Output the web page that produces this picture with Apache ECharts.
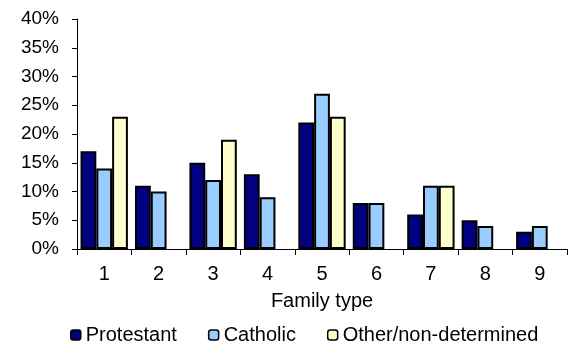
<!DOCTYPE html>
<html>
<head>
<meta charset="utf-8">
<script src="https://cdn.jsdelivr.net/npm/echarts@6/dist/echarts.min.js"></script>
<style>
html,body{margin:0;padding:0;background:#fff;}
#chart{width:573px;height:344px;}
</style>
</head>
<body>
<div id="chart"></div>
<script>
var categories = ['1','2','3','4','5','6','7','8','9'];
var protestant = [17, 11, 15, 13, 22, 8, 6, 5, 3];
var catholic = [14, 10, 12, 9, 27, 8, 11, 4, 4];
var other = [23, '-', 19, '-', 23, '-', 11, '-', '-'];
var seriesNames = ['Protestant', 'Catholic', 'Other/non-determined'];
var yTicks = {min: 0, max: 40, interval: 5};

var font = 'Liberation Sans, Arial, sans-serif';
var chart = echarts.init(document.getElementById('chart'), null, {renderer: 'canvas'});
function bar(name, data, color) {
  return {
    name: name,
    type: 'bar',
    data: data,
    barGap: '0%',
    barCategoryGap: '13%',
    itemStyle: {color: color, borderColor: '#000', borderWidth: 2},
    emphasis: {disabled: true}
  };
}
chart.setOption({
  animation: false,
  backgroundColor: '#fff',
  grid: {left: 77, right: 6, top: 19, bottom: 95, containLabel: false},
  legend: {
    left: 70,
    top: 325,
    padding: 0,
    itemWidth: 10,
    itemHeight: 10,
    itemGap: 31,
    itemStyle: {borderWidth: 1.5, borderColor: '#000'},
    textStyle: {fontFamily: font, fontSize: 20, color: '#000'},
    data: seriesNames
  },
  xAxis: {
    type: 'category',
    data: categories,
    name: 'Family type',
    nameLocation: 'middle',
    nameGap: 42,
    nameTextStyle: {fontFamily: font, fontSize: 20, color: '#000'},
    axisLine: {lineStyle: {color: '#000', width: 1}},
    axisTick: {show: true, length: 6, lineStyle: {color: '#000'}},
    axisLabel: {fontFamily: font, fontSize: 20, color: '#000', margin: 15},
    splitLine: {show: false}
  },
  yAxis: {
    type: 'value',
    min: yTicks.min,
    max: yTicks.max,
    interval: yTicks.interval,
    axisLine: {show: true, lineStyle: {color: '#000', width: 1}},
    axisTick: {show: true, length: 5, lineStyle: {color: '#000'}},
    axisLabel: {fontFamily: font, fontSize: 19, color: '#000', margin: 18, formatter: '{value}%'},
    splitLine: {show: false}
  },
  series: [
    bar(seriesNames[0], protestant, '#000080'),
    bar(seriesNames[1], catholic, '#99CCFF'),
    bar(seriesNames[2], other, '#FFFFCC')
  ]
});
</script>
</body>
</html>
